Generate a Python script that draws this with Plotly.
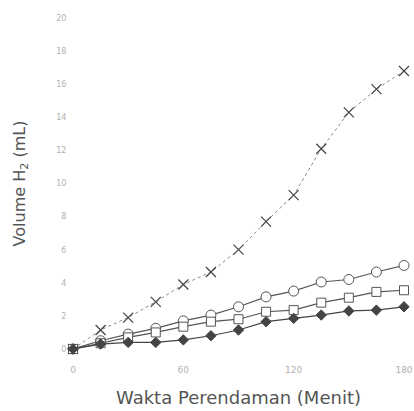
import plotly.graph_objects as go

minutes = [0, 15, 30, 45, 60, 75, 90, 105, 120, 135, 150, 165, 180]
series_x = [0, 1.15, 1.9, 2.85, 3.9, 4.65, 6.0, 7.7, 9.3, 12.1, 14.3, 15.7, 16.8]
series_o = [0, 0.5, 0.9, 1.25, 1.7, 2.05, 2.55, 3.15, 3.5, 4.05, 4.2, 4.65, 5.05]
series_s = [0, 0.35, 0.7, 1.0, 1.35, 1.65, 1.8, 2.25, 2.35, 2.8, 3.1, 3.45, 3.55]
series_d = [0, 0.3, 0.4, 0.4, 0.55, 0.8, 1.15, 1.65, 1.85, 2.05, 2.3, 2.35, 2.55]

x_ticks = [0, 60, 120, 180]
y_ticks = [0, 2, 4, 6, 8, 10, 12, 14, 16, 18, 20]

fig = go.Figure()
fig.add_trace(go.Scatter(x=minutes, y=series_x, mode="lines+markers",
                         line=dict(color="#888", width=1, dash="dot"),
                         marker=dict(symbol="x-thin", size=10, line=dict(color="#444", width=1.2)),
                         cliponaxis=False, showlegend=False))
fig.add_trace(go.Scatter(x=minutes, y=series_o, mode="lines+markers",
                         line=dict(color="#555", width=1.2),
                         marker=dict(symbol="circle", size=10, color="white", line=dict(color="#555", width=1)),
                         cliponaxis=False, showlegend=False))
fig.add_trace(go.Scatter(x=minutes, y=series_s, mode="lines+markers",
                         line=dict(color="#555", width=1.2),
                         marker=dict(symbol="square", size=9, color="white", line=dict(color="#555", width=1)),
                         cliponaxis=False, showlegend=False))
fig.add_trace(go.Scatter(x=minutes, y=series_d, mode="lines+markers",
                         line=dict(color="#444", width=1.2),
                         marker=dict(symbol="diamond", size=8, color="#444", line=dict(color="#444", width=1)),
                         cliponaxis=False, showlegend=False))

fig.update_layout(
    width=414, height=411,
    margin=dict(l=73, r=10, t=18, b=62),
    paper_bgcolor="white", plot_bgcolor="white",
    font=dict(family="DejaVu Sans, sans-serif", color="#555"),
    xaxis=dict(range=[0, 180], tickvals=x_ticks, showgrid=False, zeroline=False, automargin=False,
               showline=False, ticks="outside", ticklen=12, tickcolor="rgba(0,0,0,0)",
               tickfont=dict(size=9, color="#b0b0b0"),
               title=dict(text="Wakta Perendaman (Menit)", font=dict(size=18, color="#555"), standoff=17)),
    yaxis=dict(range=[0, 20], tickvals=y_ticks, showgrid=False, zeroline=False, automargin=False,
               showline=False, ticks="outside", ticklen=4, tickcolor="rgba(0,0,0,0)",
               tickfont=dict(size=8, color="#b0b0b0"),
               title=dict(text="Volume H<sub>2</sub> (mL)", font=dict(size=16, color="#555"), standoff=26)),
)

fig.write_html("out.html")
